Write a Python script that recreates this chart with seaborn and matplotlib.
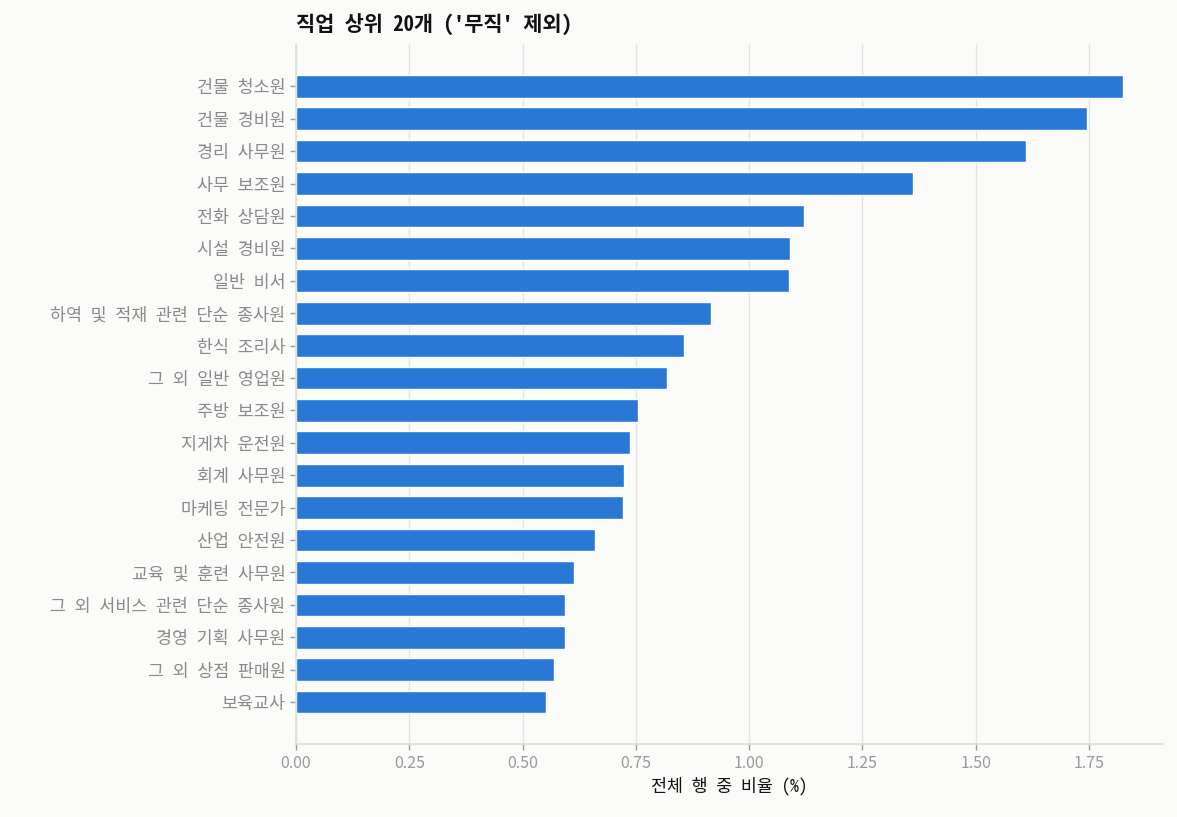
import numpy as np
import pandas as pd
import seaborn as sns
import matplotlib.pyplot as plt

jobs = ["건물 청소원", "건물 경비원", "경리 사무원", "사무 보조원", "전화 상담원",
        "시설 경비원", "일반 비서", "하역 및 적재 관련 단순 종사원", "한식 조리사", "그 외 일반 영업원",
        "주방 보조원", "지게차 운전원", "회계 사무원", "마케팅 전문가", "산업 안전원",
        "교육 및 훈련 사무원", "그 외 서비스 관련 단순 종사원", "경영 기획 사무원", "그 외 상점 판매원", "보육교사"]
ratios = [1.824, 1.745, 1.610, 1.361, 1.121,
          1.090, 1.088, 0.916, 0.856, 0.818,
          0.754, 0.737, 0.724, 0.721, 0.660,
          0.613, 0.593, 0.593, 0.569, 0.552]

df = pd.DataFrame({"직업": jobs, "비율": ratios})

sns.set_style("whitegrid")
plt.rcParams['font.family'] = ['Noto Sans CJK KR', 'DejaVu Sans']
wide = ['Noto Sans Mono CJK KR', 'Noto Sans CJK KR', 'DejaVu Sans']  # 한글 폭 넓게
bg = "#fbfbf9"

fig, ax = plt.subplots(figsize=(11.77, 8.17), dpi=100)
fig.patch.set_facecolor(bg)
ax.set_facecolor(bg)

sns.barplot(data=df, x="비율", y="직업", color="#2a78d6", saturation=1, width=0.7, ax=ax)

ax.set_xlim(0, 1.913)
ax.set_ylim(20.3, -1.3)
ax.set_xticks(np.arange(0, 1.76, 0.25))
ax.xaxis.set_major_formatter(plt.FuncFormatter(lambda v, p: f"{v:.2f}"))
ax.grid(axis="x", color="#e3e3e3", linewidth=1)
ax.grid(axis="y", visible=False)
ax.set_axisbelow(True)

for s in ["top", "right"]:
    ax.spines[s].set_visible(False)
for s in ["left", "bottom"]:
    ax.spines[s].set_color("#dcdcd8")
    ax.spines[s].set_linewidth(1.2)

ax.tick_params(axis="both", left=True, bottom=True, colors="#9a9a9a", length=4, width=1)
ax.tick_params(axis="x", labelsize=11.5, labelcolor="#999999")
ax.tick_params(axis="y", labelsize=12.5, labelcolor="#8a8a8a")
for lab in ax.get_yticklabels():
    lab.set_family(wide)
ax.set_ylabel("")
ax.set_xlabel("전체 행 중 비율 (%)", fontsize=12.5, color="#111111", family=wide)
ax.set_title("직업 상위 20개 ('무직' 제외)", loc="left", fontsize=15, fontweight="bold",
             color="#111111", pad=9, family=wide)

plt.subplots_adjust(left=0.2515, right=0.988, top=0.946, bottom=0.089)
plt.savefig("out.png", dpi=100, facecolor=bg)
